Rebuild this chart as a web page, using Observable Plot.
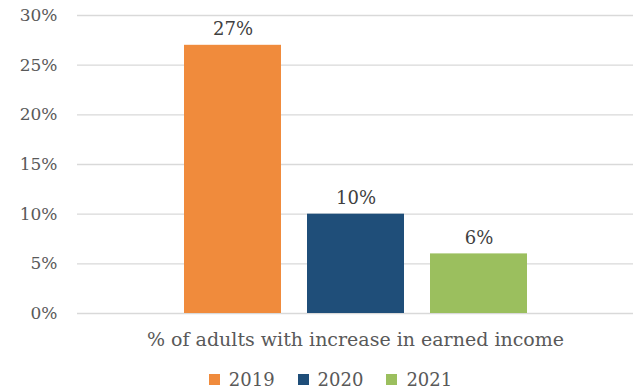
<!DOCTYPE html>
<html>
<head>
<meta charset="utf-8">
<script src="https://cdn.jsdelivr.net/npm/d3@7"></script>
<script src="https://cdn.jsdelivr.net/npm/@observablehq/plot@0.6"></script>
<style>
  html, body { margin: 0; padding: 0; background: #fff; }
  #chart { width: 639px; font-family: "DejaVu Serif", serif; }
  #legend { display: flex; justify-content: center; padding-left: 45px; padding-top: 3px; }
</style>
</head>
<body>
<div id="chart"></div>
<script>
const years = ["2019", "2020", "2021"];
const values = [27, 10, 6];
const colors = ["#F08B3C", "#1F4E79", "#9BBF5E"];
const yTicks = [0, 5, 10, 15, 20, 25, 30];
const categoryLabel = "% of adults with increase in earned income";

const data = years.map((y, i) => ({year: y, value: values[i]}));

const chart = Plot.plot({
  width: 639,
  height: 360,
  marginTop: 15,
  marginBottom: 47,
  marginLeft: 77,
  marginRight: 6,
  style: {fontFamily: "DejaVu Serif, serif", fontSize: "17px", color: "#595959", background: "#fff"},
  x: {domain: years, paddingInner: 0.215, paddingOuter: 0.86, axis: null},
  y: {domain: [0, 30], axis: null, label: null},
  color: {domain: years, range: colors},
  marks: [
    Plot.gridY(yTicks, {stroke: "#d9d9d9", strokeOpacity: 1, strokeWidth: 1.3}),
    Plot.axisY(yTicks, {tickSize: 0, tickPadding: 20, tickFormat: d => d + "%", fontSize: 17, fill: "#595959", label: null}),
    Plot.barY(data, {x: "year", y: "value", fill: "year"}),
    Plot.text(data, {x: "year", y: "value", text: d => d.value + "%", lineAnchor: "bottom", dy: -10, fontSize: 18, fill: "#404040"}),
    Plot.text([categoryLabel], {frameAnchor: "bottom", text: d => d, lineAnchor: "top", dy: 19, fontSize: 19, fill: "#595959"})
  ]
});
document.getElementById("chart").appendChild(chart);

const legendDiv = document.createElement("div");
legendDiv.id = "legend";
const leg = Plot.legend({
  color: {domain: years, range: colors},
  swatchSize: 11,
  style: {fontFamily: "DejaVu Serif, serif", fontSize: "18px", color: "#595959"}
});
leg.querySelectorAll("span").forEach(s => { s.style.marginRight = "23px"; });
legendDiv.appendChild(leg);
document.getElementById("chart").appendChild(legendDiv);
</script>
</body>
</html>
